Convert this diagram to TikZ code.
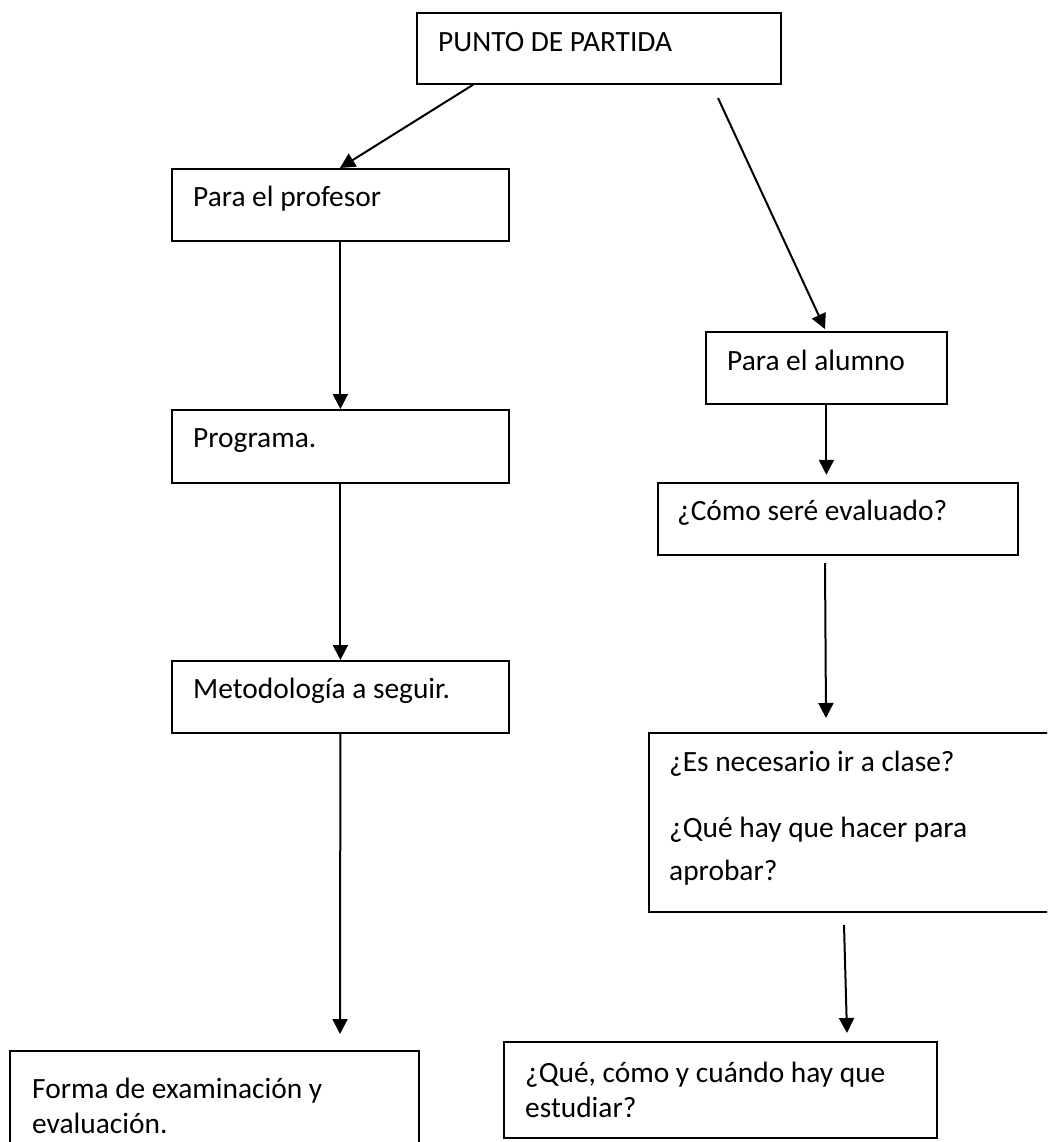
\documentclass[tikz,border=0pt]{standalone}
\usepackage{fontspec}
\setmainfont{Carlito}
\usetikzlibrary{arrows.meta,calc}

\tikzset{
  box/.style={draw, line width=1.8pt, rectangle, inner sep=0pt, anchor=north west},
  txt/.style={anchor=base west, inner sep=0pt, font=\fontsize{29.4}{35}\selectfont},
  flow/.style={line width=2pt, -{Triangle[length=15pt,width=15pt]}},
}

% draws a box from its top-left corner with the given width and height
\newcommand{\flowbox}[5]{%
  \node[box, minimum width=#4pt, minimum height=#5pt] (#1) at (#2,#3) {};}

\begin{document}
\begin{tikzpicture}[x=1pt,y=-1pt]
\useasboundingbox (0,0) rectangle (1047,1142);
\clip (0,0) rectangle (1047,1142);
\fill[white] (0,0) rectangle (1047,1142);

% boxes
\flowbox{punto}{416}{12}{364}{71}
\flowbox{prof}{171}{168}{337}{72}
\flowbox{prog}{171}{409}{337}{73}
\flowbox{metod}{171}{660}{337}{72}
\flowbox{forma}{9}{1050}{409}{120}
\flowbox{alumno}{705}{331}{241}{72}
\flowbox{como}{657}{482}{360}{72}
\flowbox{nec}{648}{732}{420}{179}
\flowbox{que}{503}{1041}{433}{96}

% texts
\node[txt] (tpunto) at ($(punto.north west)+(22,40)$) {PUNTO DE PARTIDA};
\node[txt] (tprof) at ($(prof.north west)+(22,39)$) {Para el profesor};
\node[txt] (tprog) at ($(prog.north west)+(22,38)$) {Programa.};
\node[txt] (tmetod) at ($(metod.north west)+(22,38)$) {Metodología a seguir.};
\node[txt] (tforma1) at ($(forma.north west)+(23,48)$) {Forma de examinación y};
\node[txt] (tforma2) at ($(forma.north west)+(23,83)$) {evaluación.};
\node[txt] (talumno) at ($(alumno.north west)+(22,39)$) {Para el alumno};
\node[txt] (tcomo) at ($(como.north west)+(20,38)$) {¿Cómo seré evaluado?};
\node[txt] (tnec1) at ($(nec.north west)+(21,39)$) {¿Es necesario ir a clase?};
\node[txt] (tnec2) at ($(nec.north west)+(21,105)$) {¿Qué hay que hacer para};
\node[txt] (tnec3) at ($(nec.north west)+(21,148)$) {aprobar?};
\node[txt] (tque1) at ($(que.north west)+(22,41)$) {¿Qué, cómo y cuándo hay que};
\node[txt] (tque2) at ($(que.north west)+(22,76)$) {estudiar?};

% free ends of the connectors
\coordinate (formaIn) at ($(forma.north west)+(331,-16)$);
\coordinate (queIn) at ($(que.north west)+(344,-8)$);
\coordinate (necOut) at ($(nec.north west)+(196,193)$);
\coordinate (comoOut) at ($(como.north west)+(168,81)$);
\coordinate (puntoOut) at ($(punto.north west)+(302,86)$);

% connectors
\draw[flow] ($(punto.south west)+(57,0)$) -- ($(prof.north west)+(169,0)$);
\draw[flow] (puntoOut) -- ($(alumno.north west)+(120,-2)$);
\draw[flow] (prof.south) -- (prog.north);
\draw[flow] (prog.south) -- (metod.north);
\draw[flow] (metod.south) -- (formaIn);
\draw[flow] (alumno.south) -- ($(alumno.south)+(0,70)$);
\draw[flow] (comoOut) -- ($(nec.north west)+(178,-14)$);
\draw[flow] (necOut) -- (queIn);
\end{tikzpicture}
\end{document}
